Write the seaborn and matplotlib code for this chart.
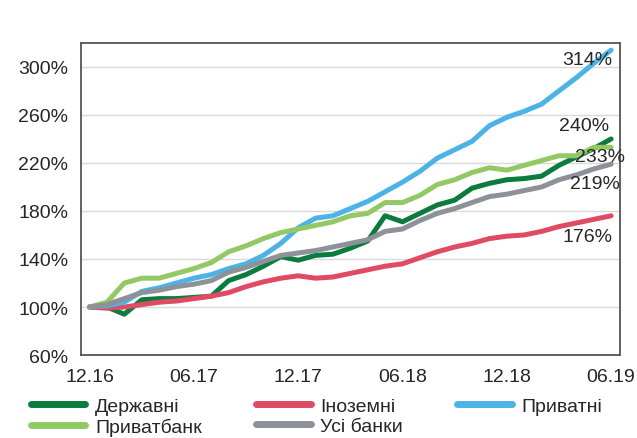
import numpy as np
import pandas as pd
import matplotlib
matplotlib.use("Agg")
import matplotlib.pyplot as plt
import seaborn as sns

# monthly index, 12.16 = 100%
months = ["12.16", "01.17", "02.17", "03.17", "04.17", "05.17", "06.17", "07.17", "08.17",
          "09.17", "10.17", "11.17", "12.17", "01.18", "02.18", "03.18", "04.18", "05.18",
          "06.18", "07.18", "08.18", "09.18", "10.18", "11.18", "12.18", "01.19", "02.19",
          "03.19", "04.19", "05.19", "06.19"]

state = [100, 100, 94, 106, 107, 107, 108, 109, 122, 127, 134, 142, 139, 143, 144, 149,
         155, 176, 171, 178, 185, 189, 199, 203, 206, 207, 209, 218, 225, 232, 240]
foreign = [100, 99, 100, 102, 104, 105, 107, 109, 112, 117, 121, 124, 126, 124, 125, 128,
           131, 134, 136, 141, 146, 150, 153, 157, 159, 160, 163, 167, 170, 173, 176]
private = [100, 101, 104, 113, 116, 120, 124, 127, 132, 136, 143, 153, 166, 174, 176, 182,
           188, 196, 204, 213, 224, 231, 238, 251, 258, 263, 269, 280, 291, 303, 314]
privatbank = [100, 104, 120, 124, 124, 128, 132, 137, 146, 151, 157, 162, 165, 168, 171, 176,
              178, 187, 187, 193, 202, 206, 212, 216, 214, 218, 222, 226, 226, 233, 233]
all_banks = [100, 102, 107, 112, 114, 117, 119, 122, 129, 133, 138, 143, 145, 147, 150, 153,
             156, 163, 165, 172, 178, 182, 187, 192, 194, 197, 200, 206, 210, 215, 219]

names = ["Державні", "Іноземні", "Приватні", "Приватбанк", "Усі банки"]
colors = ["#0B7B3E", "#E04B63", "#4BB3E6", "#92C965", "#8D9298"]

rows = []
for name, vals in zip(names, [state, foreign, private, privatbank, all_banks]):
    for i, v in enumerate(vals):
        rows.append({"idx": i, "group": name, "value": v})
df = pd.DataFrame(rows)

sns.set_style("white")
plt.rcParams["font.family"] = ["Liberation Sans", "DejaVu Sans"]
plt.rcParams["font.size"] = 14

fig = plt.figure(figsize=(6.37, 4.39), dpi=100)
ax = fig.add_axes([0.127, 0.189, 0.846, 0.711])

sns.lineplot(data=df, x="idx", y="value", hue="group", hue_order=names,
             palette=colors, linewidth=3.6, ax=ax, legend=True)

ax.set_xlim(-0.5, 30.5)
ax.set_ylim(60, 320)
ax.set_yticks(range(60, 301, 40))
ax.set_yticklabels([f"{v}%" for v in range(60, 301, 40)])
ax.yaxis.grid(True, color="#D9D9D9", linewidth=1)
ax.set_axisbelow(True)

ax.set_xticks(range(0, 31, 6))
ax.set_xticklabels(months[::6])
ax.set_xticks(np.arange(2.5, 30, 3), minor=True)
ax.tick_params(axis="x", which="major", length=0, pad=9, labelsize=14)
ax.tick_params(axis="x", which="minor", length=5, width=1.2, color="#555555", direction="out")
ax.tick_params(axis="y", length=5, width=1.2, color="#555555", direction="out",
               labelsize=14, pad=4)
ax.set_xlabel("")
ax.set_ylabel("")

for s in ax.spines.values():
    s.set_color("#555555")
    s.set_linewidth(1.3)

# end labels
label_pos = {
    "Приватні": (30.05, 306),
    "Державні": (29.9, 251),
    "Приватбанк": (30.8, 225),
    "Усі банки": (30.5, 203),
    "Іноземні": (30.1, 159),
}
last = {n: v[-1] for n, v in zip(names, [state, foreign, private, privatbank, all_banks])}
for n, (x, y) in label_pos.items():
    ax.text(x, y, f"{last[n]:.0f}%", ha="right", va="center", fontsize=14,
            clip_on=False, zorder=5)

handles, labels = ax.get_legend_handles_labels()
ax.legend_.remove()
for h in handles:
    h.set_linewidth(5)
    h.set_solid_capstyle("round")
order = [0, 3, 1, 4, 2]
fig.legend([handles[i] for i in order], [labels[i] for i in order],
           loc="lower left", bbox_to_anchor=(0.03, -0.022), ncol=3,
           frameon=False, fontsize=14, handlelength=2.8, handletextpad=0.5,
           columnspacing=2.8, labelspacing=0.15, borderaxespad=0.2)

fig.savefig("out.png", dpi=100)
